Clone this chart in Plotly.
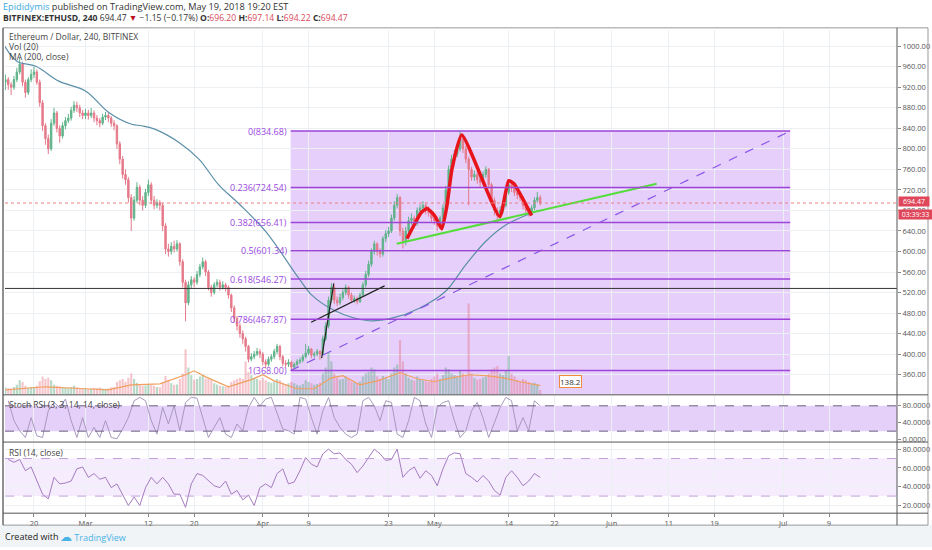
import pandas as pd
import numpy as np
import plotly.graph_objects as go

W, H = 932, 550

# ---- price data, 12h candles (Feb 15 -> May 19) ----
close_feb = [935, 925, 920, 935, 950, 965, 930, 910, 935, 945, 950, 930, 890, 845, 820, 800, 850, 870, 840, 825,
             845, 855, 860, 875, 885, 880, 870, 865]
high_feb = [945, 940, 930, 942, 958, 978, 970, 935, 940, 955, 960, 955, 935, 895, 850, 828, 858, 880, 874, 846,
            852, 862, 868, 882, 893, 892, 886, 876]
low_feb = [915, 915, 905, 915, 930, 945, 922, 900, 905, 930, 938, 925, 882, 835, 808, 790, 796, 845, 832, 812,
           820, 838, 850, 855, 870, 872, 862, 858]

close_mar = [870, 865, 870, 860, 855, 850, 862, 865, 860, 850, 845, 810, 780, 750, 740, 705, 665, 700, 725, 700,
             690, 715, 730, 700, 690, 695, 690, 650, 605, 600, 610, 605, 615, 580, 540, 500, 535, 545, 540, 555,
             570, 580, 560, 530, 520, 535, 540, 530, 535, 530, 515, 490, 470, 455, 440, 430, 415, 390, 395, 400,
             405, 400]
high_mar = [878, 876, 880, 875, 866, 860, 868, 872, 870, 864, 856, 848, 815, 786, 760, 745, 712, 708, 735, 730,
            708, 722, 740, 735, 708, 702, 700, 694, 655, 615, 618, 621, 622, 618, 585, 545, 542, 552, 550, 562,
            576, 588, 584, 564, 535, 540, 546, 545, 542, 539, 534, 518, 495, 474, 460, 446, 434, 418, 402, 406,
            412, 410]
low_mar = [858, 857, 860, 852, 846, 842, 846, 856, 852, 843, 836, 800, 770, 742, 730, 695, 640, 660, 695, 690,
           680, 685, 708, 692, 682, 684, 680, 640, 595, 590, 594, 598, 600, 572, 530, 464, 495, 528, 530, 535,
           550, 565, 552, 524, 512, 516, 530, 524, 526, 522, 508, 482, 462, 446, 432, 420, 405, 384, 386, 390,
           396, 392]

close_apr = [385, 380, 390, 395, 405, 415, 395, 382, 380, 384, 375, 380, 385, 388, 395, 402, 410, 398, 400, 405,
             400, 430, 455, 505, 530, 505, 500, 510, 520, 530, 515, 505, 508, 502, 515, 535, 555, 575, 600, 615,
             600, 595, 625, 635, 640, 665, 690, 705, 640, 620, 640, 660, 665, 655, 680, 685, 690, 680, 675, 665]
high_apr = [404, 390, 395, 400, 410, 420, 418, 398, 388, 390, 387, 384, 390, 393, 400, 420, 416, 412, 405, 410,
            408, 436, 462, 512, 538, 534, 512, 518, 526, 536, 533, 520, 514, 512, 520, 540, 562, 582, 606, 621,
            618, 606, 630, 642, 648, 672, 698, 712, 708, 646, 648, 668, 674, 670, 686, 692, 698, 695, 688, 680]
low_apr = [378, 372, 376, 385, 390, 400, 388, 376, 374, 375, 368, 370, 376, 381, 384, 392, 398, 392, 393, 396,
           389, 398, 426, 450, 500, 498, 494, 496, 505, 515, 508, 500, 500, 497, 500, 512, 530, 550, 570, 594,
           592, 588, 590, 618, 628, 636, 660, 684, 630, 606, 612, 635, 652, 646, 650, 674, 680, 672, 668, 658]

close_may = [660, 650, 665, 685, 720, 760, 780, 790, 800, 820, 800, 780, 760, 745, 750, 740, 735, 750, 760, 730,
             700, 680, 670, 680, 690, 715, 730, 725, 715, 710, 705, 690, 680, 675, 685, 700, 705, 694.47]
high_may = [672, 665, 670, 692, 728, 768, 788, 798, 810, 835, 828, 806, 785, 765, 758, 756, 746, 756, 766, 763,
            734, 705, 686, 688, 696, 722, 738, 736, 730, 720, 714, 708, 694, 686, 690, 706, 716, 710]
low_may = [652, 640, 644, 660, 680, 715, 752, 772, 784, 795, 792, 772, 690, 738, 738, 732, 726, 730, 744, 722,
           692, 670, 656, 664, 674, 686, 710, 716, 708, 702, 698, 682, 672, 668, 670, 680, 695, 690]
first_open = 930

vol_feb = [250, 220, 200, 260, 330, 480, 420, 300, 230, 260, 240, 300, 450, 600, 520, 560, 480, 330, 300, 280,
           240, 230, 220, 260, 300, 250, 220, 200]
vol_mar = [220, 200, 210, 230, 220, 240, 210, 200, 220, 250, 260, 420, 480, 520, 430, 560, 700, 520, 400, 330,
           300, 310, 360, 330, 300, 260, 250, 420, 620, 500, 380, 330, 340, 520, 700, 1500, 900, 640, 500, 520,
           600, 650, 540, 520, 480, 380, 340, 300, 280, 260, 300, 420, 480, 520, 560, 520, 1100, 750, 640, 560,
           520, 480]
vol_apr = [560, 480, 420, 400, 450, 520, 480, 400, 360, 380, 420, 380, 330, 310, 360, 480, 420, 380, 330, 360,
           400, 700, 900, 1400, 1100, 700, 560, 500, 520, 600, 520, 440, 400, 380, 440, 600, 700, 750, 900, 850,
           600, 520, 620, 560, 520, 700, 900, 1000, 1800, 1100, 700, 560, 500, 460, 600, 520, 480, 450, 430, 520]
vol_may = [600, 700, 520, 650, 900, 850, 700, 650, 600, 800, 700, 650, 3000, 700, 550, 500, 520, 560, 600, 700,
           850, 900, 950, 700, 650, 800, 1280, 700, 600, 500, 450, 520, 480, 420, 380, 400, 350, 158]

# volume MA(20)
vma_dates = ["2018-02-15", "2018-02-22", "2018-03-01", "2018-03-05", "2018-03-09", "2018-03-14", "2018-03-18 12:00",
             "2018-03-20", "2018-03-22", "2018-03-26", "2018-03-30", "2018-04-01", "2018-04-03", "2018-04-07",
             "2018-04-10", "2018-04-13", "2018-04-15", "2018-04-18", "2018-04-21", "2018-04-25", "2018-04-28",
             "2018-05-01", "2018-05-04", "2018-05-07", "2018-05-10", "2018-05-13", "2018-05-16", "2018-05-19 12:00"]
vma_vals = [165, 265, 200, 165, 330, 360, 660, 790, 590, 265, 500, 660, 460, 200, 200, 560, 630, 330, 460, 725,
            530, 430, 560, 660, 630, 560, 430, 300]

# MA(200, close)
ma_dates = ["2018-02-14 10:00", "2018-02-17", "2018-02-20 08:00", "2018-02-24 08:00", "2018-03-01", "2018-03-05 02:00",
            "2018-03-09 02:00", "2018-03-10 20:00", "2018-03-13 05:00", "2018-03-17 07:00", "2018-03-20 20:00",
            "2018-03-24 07:00", "2018-03-27 20:00", "2018-04-01 12:00", "2018-04-07 07:00", "2018-04-09 14:00",
            "2018-04-13 17:00", "2018-04-19 12:00", "2018-04-23 14:00", "2018-04-28 07:00", "2018-05-02 22:00",
            "2018-05-06 10:00", "2018-05-09 22:00", "2018-05-13 10:00", "2018-05-16 22:00", "2018-05-19 07:00"]
ma_vals = [1009, 971, 961, 932, 913, 871, 848, 845, 838, 813, 780, 730, 693, 639, 548, 515, 484, 465, 470, 489,
           522, 573, 619, 651, 670, 680]

# Stoch RSI and RSI, daily readings
stoch_vals = [92, 45, 21, 5, 52, 9, 5, 68, 88, 76, 96, 45, 5, 52, 5, 29, 5, 45, 5, 2,
              25, 52, 92, 100, 92, 45, 13, 76, 37, 80, 21, 88, 100, 98, 52, 5, 29, 52, 13, 5,
              37, 21, 76, 100, 80, 96, 100, 60, 25, 21, 13, 100, 96, 52, 13, 68, 100, 52, 29, 13,
              5, 13, 92, 100, 80, 45, 92, 88, 13, 5, 45, 100, 92, 37, 5, 76, 88, 92, 45, 5,
              21, 68, 88, 52, 5, 40, 76, 100, 92, 21, 52, 21, 92, 80]
rsi_vals = [69, 66, 69, 57, 61, 46, 32, 27, 50, 43, 44, 46, 59, 61, 50, 54, 48, 50, 39, 43,
            32, 20, 29, 20, 39, 50, 43, 50, 43, 32, 32, 18, 43, 54, 52, 46, 41, 39, 46, 32,
            36, 26, 31, 20, 39, 43, 39, 54, 59, 43, 45, 57, 71, 64, 61, 75, 80, 75, 76, 69,
            64, 55, 62, 71, 80, 75, 68, 69, 80, 50, 57, 61, 49, 57, 52, 41, 59, 73, 76, 75,
            54, 50, 45, 52, 46, 36, 31, 50, 57, 50, 41, 46, 54, 50]

# drawings
fib_ratios = ["0", "0.236", "0.382", "0.5", "0.618", "0.786", "1"]
fib_prices = [834.68, 724.54, 656.41, 601.34, 546.27, 467.87, 368.00]
red_dates = ["2018-04-26 05:00", "2018-04-27 17:00", "2018-04-28 17:00", "2018-04-29 17:00", "2018-04-30 14:00",
             "2018-05-01 05:00", "2018-05-02 07:00", "2018-05-03 05:00", "2018-05-04 02:00", "2018-05-05 19:00",
             "2018-05-12 10:00", "2018-05-14 00:00", "2018-05-14 22:00", "2018-05-18 00:00"]
red_prices = [625, 657, 676, 684, 676, 667, 644, 690, 761, 827, 668, 738, 732, 670]
green_dates = ["2018-04-24 10:00", "2018-06-08 21:00"]
green_prices = [615, 732]
black1_dates = ["2018-04-09 11:00", "2018-04-22 07:00"]
black1_prices = [462, 533]
black2_dates = ["2018-04-11 07:00", "2018-04-13 10:00"]
black2_prices = [392, 538]
trend_dates = ["2018-04-05 21:00", "2018-07-02 05:00"]
trend_prices = [368.00, 834.68]
hline_price = 528
last_price = 694.47

tick_dates = ["2018-02-20", "2018-03-01", "2018-03-12", "2018-03-20", "2018-04-01", "2018-04-09", "2018-04-23",
              "2018-05-01", "2018-05-14", "2018-05-22", "2018-06-01", "2018-06-11", "2018-06-19", "2018-07-01",
              "2018-07-09"]
tick_text = ["20", "Mar", "12", "20", "Apr", "9", "23", "May", "14", "22", "Jun", "11", "19", "Jul", "9"]

closes = close_feb + close_mar + close_apr + close_may
highs = high_feb + high_mar + high_apr + high_may
lows = low_feb + low_mar + low_apr + low_may
opens = [first_open] + closes[:-1]
vols = vol_feb + vol_mar + vol_apr + vol_may
times = pd.date_range("2018-02-15", periods=len(closes), freq="12h")
days = pd.date_range("2018-02-15 12:00", periods=len(rsi_vals), freq="D")


def px(x):
    return x / W


def py(y):
    return 1 - y / H


XD = [px(5), px(897)]
MAIN = [py(397), py(30)]
STOCH = [py(444), py(397)]
RSI = [py(516), py(445)]
X_RANGE = ["2018-02-14 22:20", "2018-07-20 21:20"]

fig = go.Figure()

vcol = ["rgba(96,170,130,0.45)" if c >= o else "rgba(230,110,125,0.40)" for o, c in zip(opens, closes)]
fig.add_trace(go.Bar(x=times, y=vols, marker_color=vcol, marker_line_width=0, yaxis="y4", xaxis="x"))
fig.add_trace(go.Scatter(x=vma_dates, y=vma_vals, mode="lines", line=dict(color="#f0a060", width=1.2),
                         yaxis="y4", xaxis="x"))
fig.add_trace(go.Candlestick(x=times, open=opens, high=highs, low=lows, close=closes,
                             increasing=dict(line=dict(color="#5fb38a", width=1), fillcolor="#5fb38a"),
                             decreasing=dict(line=dict(color="#e57a8a", width=1), fillcolor="#e57a8a"),
                             xaxis="x", yaxis="y"))
fig.add_trace(go.Scatter(x=ma_dates, y=ma_vals, mode="lines", line=dict(color="#5b8fa8", width=1.2, shape="spline"),
                         xaxis="x", yaxis="y"))
# drawings
fig.add_trace(go.Scatter(x=trend_dates, y=trend_prices, mode="lines",
                         line=dict(color="#8a55e8", width=1.2, dash="dash"), xaxis="x", yaxis="y"))
fig.add_trace(go.Scatter(x=green_dates, y=green_prices, mode="lines", line=dict(color="#55dd3c", width=2),
                         xaxis="x", yaxis="y"))
fig.add_trace(go.Scatter(x=black1_dates, y=black1_prices, mode="lines", line=dict(color="#222", width=1.2),
                         xaxis="x", yaxis="y"))
fig.add_trace(go.Scatter(x=black2_dates, y=black2_prices, mode="lines", line=dict(color="#222", width=1.2),
                         xaxis="x", yaxis="y"))
fig.add_trace(go.Scatter(x=red_dates, y=red_prices, mode="lines",
                         line=dict(color="#e8141c", width=3.5, shape="spline", smoothing=0.5), xaxis="x", yaxis="y"))

fig.add_trace(go.Scatter(x=days, y=stoch_vals, mode="lines", line=dict(color="#a898bc", width=1),
                         xaxis="x2", yaxis="y2"))
fig.add_trace(go.Scatter(x=days, y=rsi_vals, mode="lines", line=dict(color="#a57bbf", width=1),
                         xaxis="x3", yaxis="y3"))

shapes = []
fib_x0, fib_x1 = trend_dates
# fib box fill down to the pane bottom
shapes.append(dict(type="rect", xref="x", yref="y", x0=fib_x0, x1=fib_x1, y0=320.6, y1=fib_prices[0],
                   fillcolor="rgba(180,110,240,0.33)", line_width=0, layer="below"))
for p in fib_prices:
    shapes.append(dict(type="line", xref="x", yref="y", x0=fib_x0, x1=fib_x1, y0=p, y1=p,
                       line=dict(color="#9c45d8", width=1.5)))
shapes.append(dict(type="line", xref="paper", yref="y", x0=XD[0], x1=XD[1], y0=hline_price, y1=hline_price,
                   line=dict(color="#333", width=1)))
shapes.append(dict(type="line", xref="paper", yref="y", x0=XD[0], x1=XD[1], y0=last_price, y1=last_price,
                   line=dict(color="#e88080", width=1, dash="dot")))
# indicator bands
shapes.append(dict(type="rect", xref="paper", yref="y2", x0=XD[0], x1=XD[1], y0=20, y1=80,
                   fillcolor="rgba(170,100,235,0.30)", line_width=0, layer="below"))
for v in (20, 80):
    shapes.append(dict(type="line", xref="paper", yref="y2", x0=XD[0], x1=XD[1], y0=v, y1=v,
                       line=dict(color="#6e6080", width=1, dash="dash")))
shapes.append(dict(type="rect", xref="paper", yref="y3", x0=XD[0], x1=XD[1], y0=30, y1=70,
                   fillcolor="rgba(190,130,240,0.15)", line_width=0, layer="below"))
for v in (30, 70):
    shapes.append(dict(type="line", xref="paper", yref="y3", x0=XD[0], x1=XD[1], y0=v, y1=v,
                       line=dict(color="#c0a0d8", width=1, dash="dash")))
# frame
frame = "#555"
shapes.append(dict(type="rect", xref="paper", yref="paper", x0=0, x1=1, y0=0, y1=py(528),
                   fillcolor="#f1f4f6", line_width=0, layer="below"))
shapes.append(dict(type="rect", xref="paper", yref="paper", x0=px(3), x1=px(928), y0=py(528), y1=py(28),
                   line=dict(color="#999", width=1)))
for yy in (397, 444.5, 516):
    shapes.append(dict(type="line", xref="paper", yref="paper", x0=px(3), x1=px(928), y0=py(yy), y1=py(yy),
                       line=dict(color=frame, width=1)))
shapes.append(dict(type="line", xref="paper", yref="paper", x0=px(897), x1=px(897), y0=py(528), y1=py(28),
                   line=dict(color=frame, width=1)))
shapes.append(dict(type="line", xref="paper", yref="paper", x0=px(3), x1=px(3), y0=py(528), y1=py(28),
                   line=dict(color=frame, width=1)))

ann = []
for r, p in zip(fib_ratios, fib_prices):
    ann.append(dict(xref="x", yref="y", x=fib_x0, y=p, xanchor="right", yanchor="middle", xshift=-2,
                    text=f"{r}({p:.2f})", showarrow=False, font=dict(size=9, color="#9a48e0")))
hdr = dict(size=9.2, color="#333", family="Open Sans")
ann.append(dict(xref="paper", yref="paper", x=px(1), y=py(7), xanchor="left", yanchor="middle", showarrow=False,
                text='<span style="color:#3aa8e0">Epididymis</span> published on TradingView.com, May 19, 2018 19:20 EST',
                font=hdr))
ann.append(dict(xref="paper", yref="paper", x=px(1), y=py(18), xanchor="left", yanchor="middle", showarrow=False,
                text='<b>BITFINEX:ETHUSD, 240</b> 694.47 <span style="color:#c0111f">▼</span> −1.15 (−0.17%) '
                     '<b>O:</b><span style="color:#d9475a">696.20</span> <b>H:</b><span style="color:#d9475a">697.14</span> '
                     '<b>L:</b><span style="color:#d9475a">694.22</span> <b>C:</b><span style="color:#d9475a">694.47</span>',
                font=dict(size=8.6, color="#333", family="Open Sans")))
lbl = dict(size=8.5, color="#444", family="Open Sans")
for txt, yy in (("Ethereum / Dollar, 240, BITFINEX", 37), ("Vol (20)", 47), ("MA (200, close)", 57),
                ("Stoch RSI (3, 3, 14, 14, close)", 407), ("RSI (14, close)", 455)):
    ann.append(dict(xref="paper", yref="paper", x=px(7), y=py(yy), xanchor="left", yanchor="middle",
                    showarrow=False, text=txt, font=lbl))
tag = dict(size=7, color="white")
ann.append(dict(xref="paper", yref="y", x=px(898), y=last_price, yshift=2, xanchor="left", yanchor="middle",
                showarrow=False, text="694.47", bgcolor="#e0475b", font=tag, borderpad=0, height=9, width=30))
ann.append(dict(xref="paper", yref="y", x=px(898), y=last_price, yshift=-11, xanchor="left", yanchor="middle",
                showarrow=False, text="03:39:33", bgcolor="#e0475b", font=tag, borderpad=0, height=9, width=33))
ann.append(dict(xref="paper", yref="paper", x=px(570), y=py(384), xanchor="center", yanchor="middle",
                showarrow=False, text="138.2", bgcolor="white", bordercolor="#f08a3c", borderwidth=1,
                font=dict(size=8, color="#333"), borderpad=0))
ann.append(dict(xref="paper", yref="paper", x=px(3), y=py(539), xanchor="left", yanchor="middle", showarrow=False,
                text="Created with", font=dict(size=9, color="#222", family="Open Sans")))
ann.append(dict(xref="paper", yref="paper", x=px(58), y=py(539), xanchor="left", yanchor="middle", showarrow=False,
                text='<span style="font-size:12px">☁</span> TradingView',
                font=dict(size=9, color="#4ab3e6", family="Open Sans")))

axfont = dict(size=7.5, color="#555", family="Open Sans")
grid = "#edf0f3"
xcommon = dict(type="date", range=X_RANGE, domain=XD, tickvals=tick_dates, showgrid=True, gridcolor=grid,
               zeroline=False, showline=False)
price_ticks = list(range(360, 1001, 40))
fig.update_layout(
    width=W, height=H, margin=dict(l=0, r=0, t=0, b=0), showlegend=False,
    paper_bgcolor="white", plot_bgcolor="white",
    font=dict(family="Open Sans"),
    bargap=0.25,
    xaxis=dict(**xcommon, anchor="y", showticklabels=False, rangeslider=dict(visible=False)),
    xaxis2=dict(**xcommon, anchor="y2", matches="x", showticklabels=False),
    xaxis3=dict(**xcommon, anchor="y3", matches="x", ticktext=tick_text, ticks="outside", ticklen=3,
                tickcolor="#888", tickfont=axfont),
    yaxis=dict(domain=MAIN, range=[320.6, 1032], side="right", anchor="x", tickvals=price_ticks,
               ticktext=[f"{v:.2f}" for v in price_ticks], ticks="outside", ticklen=3, tickcolor="#888",
               tickfont=axfont, showgrid=True, gridcolor=grid, zeroline=False),
    yaxis4=dict(domain=MAIN, range=[0, 12000], overlaying="y", anchor="x", visible=False),
    yaxis2=dict(domain=STOCH, range=[-4.7, 106], side="right", anchor="x2", tickvals=[0, 40, 80],
                ticktext=["0.0000", "40.0000", "80.0000"], ticks="outside", ticklen=3, tickcolor="#888",
                tickfont=axfont, showgrid=False, zeroline=False),
    yaxis3=dict(domain=RSI, range=[11.8, 87], side="right", anchor="x3", tickvals=[20, 40, 60, 80],
                ticktext=["20.0000", "40.0000", "60.0000", "80.0000"], ticks="outside", ticklen=3,
                tickcolor="#888", tickfont=axfont, showgrid=True, gridcolor=grid, zeroline=False),
    shapes=shapes, annotations=ann,
)

# page body has a default margin; drop it so the figure sits at the window's corner
fig.write_html("out.html", config={"displayModeBar": False},
               post_script="document.body.style.margin='0px';")
